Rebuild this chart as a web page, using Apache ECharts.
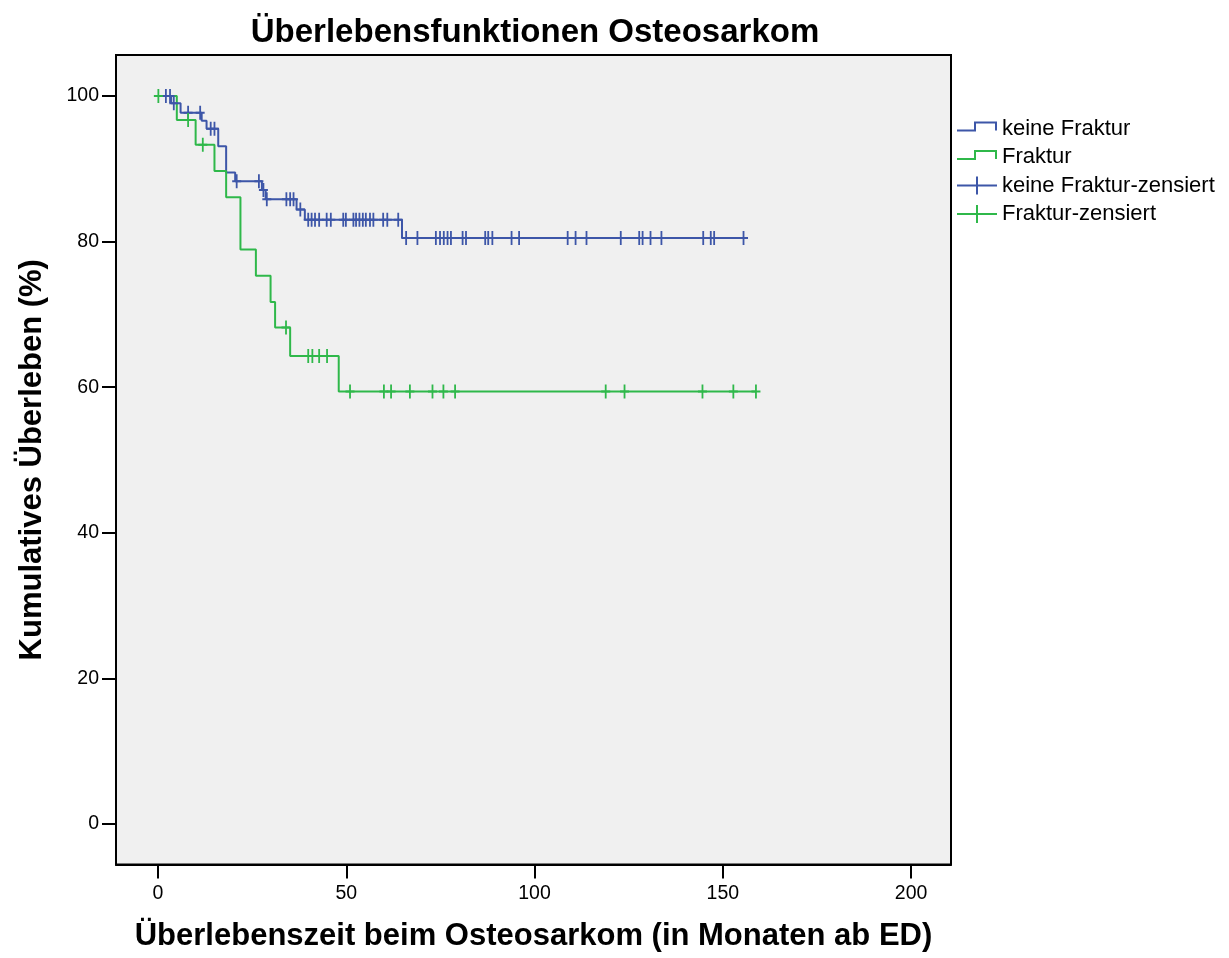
<!DOCTYPE html>
<html>
<head>
<meta charset="utf-8">
<script src="https://cdn.jsdelivr.net/npm/echarts/dist/echarts.min.js"></script>
<style>
  html, body { margin: 0; padding: 0; background: #fff; }
  #chart { width: 1229px; height: 958px; }
</style>
</head>
<body>
<div id="chart"></div>
<script>
// Kaplan-Meier Schritte (Zeit in Monaten, Überleben in %)
const keineStepT = [0, 3.5, 6.0, 11.6, 12.9, 16.0, 18.1, 20.5, 27.6, 28.6, 36.8, 39.0, 64.8, 155.5]
const keineStepS = [100, 99.0, 97.7, 96.6, 95.5, 93.1, 89.5, 88.3, 87.1, 85.8, 84.4, 83.0, 80.5, 80.5]
const frakStepT = [0, 5.0, 10.0, 15.0, 18.1, 21.9, 26.0, 29.9, 31.1, 35.1, 48.0, 158.8]
const frakStepS = [100, 96.7, 93.3, 89.7, 86.1, 78.9, 75.3, 71.7, 68.2, 64.3, 59.4, 59.4]

// zensierte Fälle (Zeitpunkte)
const keineCensT = [2.1, 3.2, 4.2, 8.0, 11.2, 14.0, 15.0, 20.9, 26.8, 28.0, 28.9, 34.1, 35.1, 36.0, 37.8,
  39.9, 40.8, 41.7, 42.8, 44.8, 45.9, 49.2, 49.9, 51.9, 52.6, 53.5, 54.4, 55.2, 56.3, 57.2, 59.8, 60.9, 63.8,
  65.9, 68.9, 73.8, 74.9, 75.9, 76.9, 77.8, 80.9, 81.8, 86.9, 87.7, 88.8, 93.9, 95.9, 108.8, 110.9, 113.8,
  122.9, 127.8, 128.7, 130.8, 133.7, 144.8, 146.8, 147.7, 155.5]
const frakCensT = [0.1, 8.0, 11.9, 34.0, 39.9, 41.0, 42.8, 44.9, 51.0, 60.0, 61.9, 66.9, 72.9, 75.8, 78.9,
  118.9, 123.9, 144.6, 152.8, 158.8]

const xTicks = [0, 50, 100, 150, 200]
const yTicks = [0, 20, 40, 60, 80, 100]

const blue = '#3d56a8'
const green = '#2fb84a'

// Überleben zum Zeitpunkt t aus der Stufenfunktion ablesen
function survAt(ts, ss, t) {
  let s = ss[0]
  for (let i = 0; i < ts.length; i++) {
    if (ts[i] <= t) s = ss[i]
  }
  return s
}

const keineLine = keineStepT.map((t, i) => [t, keineStepS[i]])
const frakLine = frakStepT.map((t, i) => [t, frakStepS[i]])
const keineCens = keineCensT.map(t => [t, survAt(keineStepT, keineStepS, t)])
const frakCens = frakCensT.map(t => [t, survAt(frakStepT, frakStepS, t)])

const plusSymbol = 'path://M4,0 H6 V6 H10 V8 H6 V14 H4 V8 H0 V6 H4 Z'
// winzige Eckpunkte halten die Box auf 40x18
const corners = 'M0,0 h0.01 v0.01 Z M39.99,17.99 h0.01 v0.01 Z '
const stepIcon = 'path://' + corners + 'M0,10 H17 V2 H40 V11 H38 V4 H19 V12 H0 Z'
const plusIcon = 'path://' + corners + 'M0,8 H19 V0 H21 V8 H40 V10 H21 V18 H19 V10 H0 Z'

const font = 'Liberation Sans, Arial, sans-serif'

const chart = echarts.init(document.getElementById('chart'))
const option = {
  animation: false,
  backgroundColor: '#ffffff',
  title: {
    text: 'Überlebensfunktionen Osteosarkom',
    left: 530,
    top: 11,
    textAlign: 'center',
    textStyle: { fontFamily: font, fontSize: 33, fontWeight: 'bold', color: '#000' }
  },
  legend: {
    orient: 'vertical',
    left: 957,
    top: 117.5,
    itemWidth: 40,
    itemHeight: 18,
    itemGap: 6.5,
    padding: 0,
    textStyle: { fontFamily: font, fontSize: 22, color: '#000' },
    data: [
      { name: 'keine Fraktur', icon: stepIcon },
      { name: 'Fraktur', icon: stepIcon },
      { name: 'keine Fraktur-zensiert', icon: plusIcon },
      { name: 'Fraktur-zensiert', icon: plusIcon }
    ]
  },
  grid: {
    left: 116,
    top: 55,
    right: 278,
    bottom: 93.5,
    containLabel: false,
    outerBoundsMode: 'none',
    show: true,
    backgroundColor: '#f0f0f0',
    borderColor: '#000',
    borderWidth: 2
  },
  xAxis: {
    type: 'value',
    min: -11.15,
    max: 210.6,
    name: 'Überlebenszeit beim Osteosarkom (in Monaten ab ED)',
    nameLocation: 'middle',
    nameGap: 56,
    nameTextStyle: { fontFamily: font, fontSize: 31, fontWeight: 'bold', color: '#000' },
    axisLine: { show: true, onZero: false, lineStyle: { color: '#000', width: 2 } },
    axisTick: { show: true, length: 14, lineStyle: { color: '#000', width: 2 }, customValues: xTicks },
    axisLabel: { fontFamily: font, fontSize: 19.5, color: '#000', margin: 19, customValues: xTicks },
    splitLine: { show: false }
  },
  yAxis: {
    type: 'value',
    min: -5.56,
    max: 105.63,
    name: 'Kumulatives Überleben (%)',
    nameLocation: 'middle',
    nameGap: 68,
    nameTextStyle: { fontFamily: font, fontSize: 31, fontWeight: 'bold', color: '#000' },
    axisLine: { show: true, onZero: false, lineStyle: { color: '#000', width: 2 } },
    axisTick: { show: true, length: 14, lineStyle: { color: '#000', width: 2 }, customValues: yTicks },
    axisLabel: { fontFamily: font, fontSize: 19.5, color: '#000', margin: 17, customValues: yTicks },
    splitLine: { show: false }
  },
  series: [
    {
      name: 'keine Fraktur',
      type: 'line',
      step: 'end',
      data: keineLine,
      showSymbol: false,
      color: blue,
      lineStyle: { color: blue, width: 2 },
      itemStyle: { color: blue }
    },
    {
      name: 'Fraktur',
      type: 'line',
      step: 'end',
      data: frakLine,
      showSymbol: false,
      color: green,
      lineStyle: { color: green, width: 2 },
      itemStyle: { color: green }
    },
    {
      name: 'keine Fraktur-zensiert',
      type: 'scatter',
      data: keineCens,
      symbol: plusSymbol,
      symbolSize: [9, 14],
      itemStyle: { color: blue, opacity: 1 },
      z: 3
    },
    {
      name: 'Fraktur-zensiert',
      type: 'scatter',
      data: frakCens,
      symbol: plusSymbol,
      symbolSize: [9, 14],
      itemStyle: { color: green, opacity: 1 },
      z: 3
    }
  ]
}
chart.setOption(option)
</script>
</body>
</html>
